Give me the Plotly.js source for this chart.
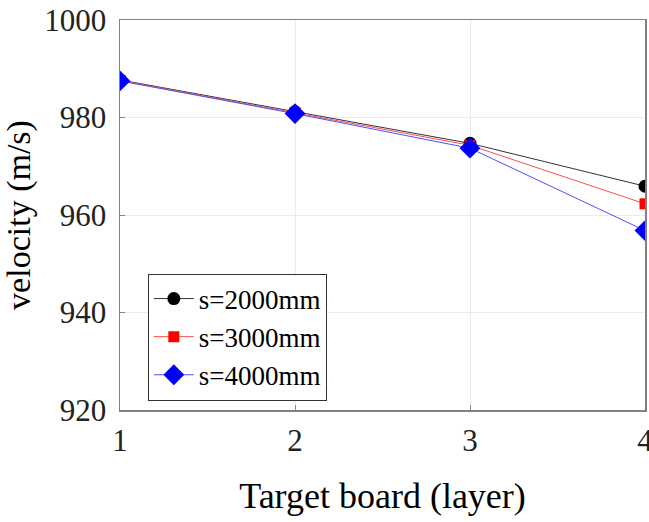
<!DOCTYPE html>
<html>
<head>
<meta charset="utf-8">
<script src="https://cdn.plot.ly/plotly-3.0.1.min.js"></script>
<style>html,body{margin:0;padding:0;background:#fff;}#chart{width:649px;height:522px;}</style>
</head>
<body>
<div id="chart"></div>
<script>
const layers = [1, 2, 3, 4];
const names = ["s=2000mm", "s=3000mm", "s=4000mm"];
const v2000 = [987.7, 981.2, 974.7, 965.9];
const v3000 = [987.6, 981.0, 974.3, 962.3];
const v4000 = [987.5, 980.8, 973.7, 956.8];
const xTicks = [1, 2, 3, 4];
const yTicks = [920, 940, 960, 980, 1000];

const font = "Liberation Serif, Times New Roman, serif";
const traces = [
  {x: layers, y: v2000, name: names[0], mode: "lines+markers",
   line: {color: "#333333", width: 1}, marker: {symbol: "circle", size: 13, color: "#000000"}},
  {x: layers, y: v3000, name: names[1], mode: "lines+markers",
   line: {color: "#ff4d4d", width: 1}, marker: {symbol: "square", size: 11, color: "#ff0000"}},
  {x: layers, y: v4000, name: names[2], mode: "lines+markers",
   line: {color: "#4d4dff", width: 1}, marker: {symbol: "diamond", size: 16, color: "#0000ff"}}
];
const layout = {
  width: 649, height: 522,
  margin: {l: 120, r: 4, t: 20, b: 112},
  paper_bgcolor: "#fff", plot_bgcolor: "#fff",
  font: {family: font, size: 31, color: "#222"},
  showlegend: true,
  legend: {x: 0.053, y: 0.35, xanchor: "left", yanchor: "top",
    bgcolor: "#fff", bordercolor: "#333", borderwidth: 1,
    font: {family: font, size: 27, color: "#000"}, tracegroupgap: 0, itemwidth: 40},
  xaxis: {range: [1, 4], tickvals: xTicks, ticks: "inside", ticklen: 5, tickcolor: "#888",
    showline: true, linecolor: "#808080", linewidth: 1.5, mirror: true,
    showgrid: true, gridcolor: "#ebebeb", zeroline: false,
    tickfont: {family: font, size: 31, color: "#222"}, ticklabelstandoff: 2,
    ticklabeloverflow: "allow",
    title: {text: "Target board (layer)", font: {family: font, size: 36, color: "#000"}, standoff: 26}},
  yaxis: {range: [920, 1000], tickvals: yTicks, ticks: "inside", ticklen: 5, tickcolor: "#888",
    showline: true, linecolor: "#808080", linewidth: 1.5, mirror: true,
    showgrid: true, gridcolor: "#ebebeb", zeroline: false,
    tickfont: {family: font, size: 31, color: "#222"}, ticklabelstandoff: 6,
    ticklabeloverflow: "allow",
    title: {text: "velocity (m/s)", font: {family: font, size: 34, color: "#000"}, standoff: 12}}
};
Plotly.newPlot("chart", traces, layout, {staticPlot: true, displayModeBar: false});
</script>
</body>
</html>
